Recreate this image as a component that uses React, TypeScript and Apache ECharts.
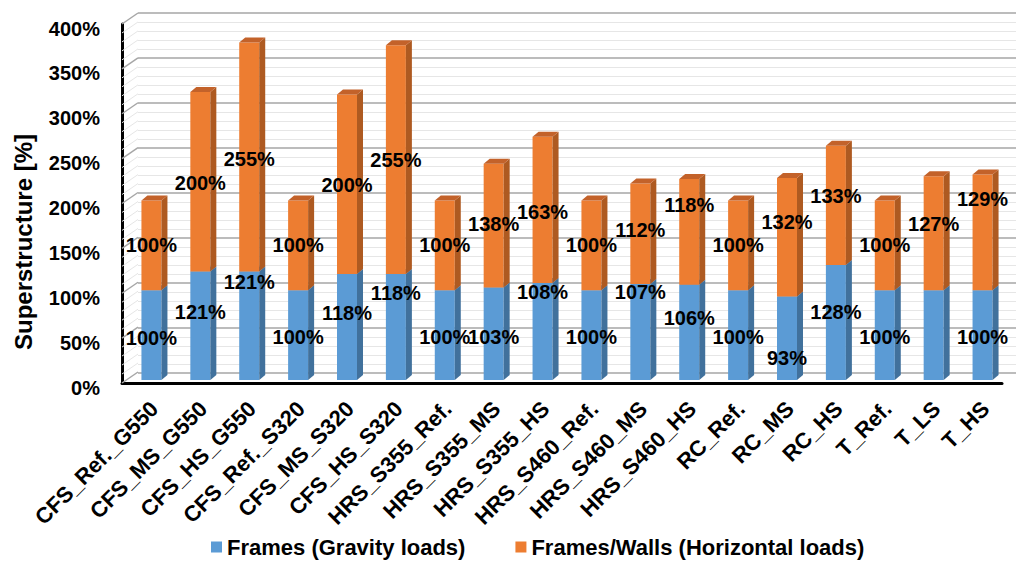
import React, { useEffect, useRef } from "react";
import * as echarts from "echarts";

const categories = [
  "CFS_Ref._G550", "CFS_MS_G550", "CFS_HS_G550", "CFS_Ref._S320", "CFS_MS_S320", "CFS_HS_S320",
  "HRS_S355_Ref.", "HRS_S355_MS", "HRS_S355_HS", "HRS_S460_Ref.", "HRS_S460_MS", "HRS_S460_HS",
  "RC_Ref.", "RC_MS", "RC_HS", "T_Ref.", "T_LS", "T_HS",
];
const gravity = [100, 121, 121, 100, 118, 118, 100, 103, 108, 100, 107, 106, 100, 93, 128, 100, 100, 100];
const horizontal = [100, 200, 255, 100, 200, 255, 100, 138, 163, 100, 112, 118, 100, 132, 133, 100, 127, 129];
const gravityLabelHidden = ["T_LS"];
const yTicks = { min: 0, max: 400, interval: 50 };

// layout: vertical nudges (px) of the data labels, as placed in the original
const gravityLabelShift = [3, -14, -44, 2, -14, -34, 2, 3, -40, 2, -40, -14, 2, 20, -11, 2, 0, 2];
const horizontalLabelShift = [0, 1, 2, 0, 1, 0, 0, -2, 2, 0, -4, -27, 0, -15, -9, 0, -9, -33];

const SERIES_G = "Frames (Gravity loads)";
const SERIES_H = "Frames/Walls (Horizontal loads)";
const FONT = "'Liberation Sans', Arial, sans-serif";

const BLUE = "#5B9BD5";
const BLUE_SIDE = "#41719C";
const BLUE_TOP = "#4F88BB";
const ORANGE = "#ED7D31";
const ORANGE_SIDE = "#AE5A21";
const ORANGE_TOP = "#C3622A";

// depth geometry (pixels)
const WALL_DX = 16;
const WALL_DY = -11;
const BAR_DX = 5;
const BAR_DY = -3;
const BAR_W = 20;
const SIDE_DX = 6;
const SIDE_DY = -5;

const PLOT = { left: 122, top: 24, width: 880, height: 359 };

function barRender(front: string, side: string, top: string) {
  return (params: any, api: any) => {
    const i = api.value(0);
    const p0 = api.coord([i, api.value(1)]);
    const p1 = api.coord([i, api.value(2)]);
    const cx = p0[0] + BAR_DX;
    const yb = p0[1] + BAR_DY;
    const yt = p1[1] + BAR_DY;
    const l = cx - BAR_W / 2;
    const r = cx + BAR_W / 2;
    return {
      type: "group",
      children: [
        { type: "rect", shape: { x: l, y: yt, width: BAR_W, height: yb - yt }, style: { fill: front } },
        {
          type: "polygon",
          shape: { points: [[r, yb], [r + SIDE_DX, yb + SIDE_DY], [r + SIDE_DX, yt + SIDE_DY], [r, yt]] },
          style: { fill: side },
        },
        {
          type: "polygon",
          shape: { points: [[l, yt], [r, yt], [r + SIDE_DX, yt + SIDE_DY], [l + SIDE_DX, yt + SIDE_DY]] },
          style: { fill: top },
        },
      ],
    };
  };
}

function labelRender(params: any, api: any) {
  const i = api.value(0);
  const txt = api.value(3);
  if (txt === "" || txt === null || txt === undefined) return null;
  const p0 = api.coord([i, api.value(1)]);
  const p1 = api.coord([i, api.value(2)]);
  const cx = p0[0] + BAR_DX;
  const cy = (p0[1] + p1[1]) / 2 + BAR_DY + Number(api.value(4));
  return {
    type: "text",
    x: cx,
    y: cy,
    style: {
      text: txt,
      fill: "#000",
      font: `bold 20px ${FONT}`,
      align: "center",
      verticalAlign: "middle",
    },
  };
}

function wallRender(params: any, api: any) {
  const children: any[] = [];
  const half = api.size([1, 0])[0] / 2;
  for (let v = yTicks.min; v <= yTicks.max; v += 10) {
    const p = api.coord([0, v]);
    const x = p[0] - half;
    const major = v % yTicks.interval === 0;
    children.push({
      type: "line",
      shape: { x1: x, y1: p[1], x2: x + WALL_DX, y2: p[1] + WALL_DY },
      style: { stroke: major ? "#A6A6A6" : "#E6E6E6", lineWidth: major ? 1.5 : 1 },
      z2: major ? 2 : 1,
    });
  }
  return { type: "group", children };
}

export default function App() {
  const ref = useRef<HTMLDivElement>(null);
  useEffect(() => {
    if (!ref.current) return;
    const chart = echarts.init(ref.current, null, { renderer: "svg" });
    const gData = categories.map((c, i) => [i, 0, gravity[i]]);
    const hData = categories.map((c, i) => [i, gravity[i], gravity[i] + horizontal[i]]);
    const gLabels = categories.map((c, i) => [
      i, 0, gravity[i], gravityLabelHidden.includes(c) ? "" : `${gravity[i]}%`, gravityLabelShift[i],
    ]);
    const hLabels = categories.map((c, i) => [
      i, gravity[i], gravity[i] + horizontal[i], `${horizontal[i]}%`, horizontalLabelShift[i],
    ]);

    const labelFont = { color: "#000", fontWeight: "bold", fontFamily: FONT };

    const option: any = {
      animation: false,
      backgroundColor: "#fff",
      textStyle: { fontFamily: FONT },
      grid: [
        { ...PLOT },
        { left: PLOT.left + WALL_DX, top: PLOT.top + WALL_DY, width: PLOT.width, height: PLOT.height + 1 },
        { left: PLOT.left, top: PLOT.top + 4.5, width: PLOT.width, height: PLOT.height },
        { left: PLOT.left + 8, top: PLOT.top, width: PLOT.width, height: PLOT.height },
      ],
      xAxis: [
        {
          type: "category",
          gridIndex: 0,
          data: categories,
          axisLine: { show: true, lineStyle: { color: "#000", width: 3 } },
          axisTick: { show: false },
          axisLabel: { show: false },
          splitLine: { show: false },
        },
        { type: "category", gridIndex: 1, data: categories, show: false },
        { type: "category", gridIndex: 2, data: categories, show: false },
        {
          type: "category",
          gridIndex: 3,
          data: categories,
          axisLine: { show: false },
          axisTick: { show: false },
          axisLabel: { interval: 0, rotate: 45, margin: 22, fontSize: 22, ...labelFont },
          splitLine: { show: false },
        },
      ],
      yAxis: [
        {
          type: "value",
          gridIndex: 0,
          min: yTicks.min,
          max: yTicks.max,
          interval: yTicks.interval,
          axisLine: { show: true, lineStyle: { color: "#000", width: 3 } },
          axisTick: { show: false },
          axisLabel: { show: false },
          splitLine: { show: false },
        },
        {
          type: "value",
          gridIndex: 1,
          min: yTicks.min,
          max: yTicks.max,
          interval: yTicks.interval,
          axisLine: { show: false },
          axisTick: { show: false },
          axisLabel: { show: false },
          splitLine: { show: true, lineStyle: { color: "#A6A6A6", width: 1.5 } },
          minorTick: { show: false, splitNumber: 5 },
          minorSplitLine: { show: true, lineStyle: { color: "#E6E6E6", width: 1 } },
        },
        {
          type: "value",
          gridIndex: 2,
          min: yTicks.min,
          max: yTicks.max,
          interval: yTicks.interval,
          axisLine: { show: false },
          axisTick: { show: false },
          axisLabel: { formatter: "{value}%", fontSize: 20, margin: 22, ...labelFont },
          splitLine: { show: false },
        },
        {
          type: "value",
          gridIndex: 3,
          min: yTicks.min,
          max: yTicks.max,
          show: false,
        },
      ],
      graphic: [
        {
          type: "text",
          x: 23,
          y: 242,
          rotation: Math.PI / 2,
          style: {
            text: "Superstructure [%]",
            fill: "#000",
            font: `bold 24px ${FONT}`,
            align: "center",
            verticalAlign: "middle",
          },
        },
      ],
      legend: {
        bottom: 2,
        left: 206,
        itemWidth: 11,
        itemHeight: 11,
        itemGap: 50,
        icon: "rect",
        textStyle: { fontSize: 22, ...labelFont },
        data: [SERIES_G, SERIES_H],
      },
      series: [
        {
          type: "custom",
          name: "wall",
          xAxisIndex: 0,
          yAxisIndex: 0,
          data: [[0, 0]],
          renderItem: wallRender,
          silent: true,
          z: 1,
        },
        {
          type: "custom",
          name: SERIES_G,
          xAxisIndex: 0,
          yAxisIndex: 0,
          data: gData,
          encode: { x: 0, y: [1, 2] },
          itemStyle: { color: BLUE },
          renderItem: barRender(BLUE, BLUE_SIDE, BLUE_TOP),
          z: 3,
        },
        {
          type: "custom",
          name: SERIES_H,
          xAxisIndex: 0,
          yAxisIndex: 0,
          data: hData,
          encode: { x: 0, y: [1, 2] },
          itemStyle: { color: ORANGE },
          renderItem: barRender(ORANGE, ORANGE_SIDE, ORANGE_TOP),
          z: 4,
        },
        {
          type: "custom",
          name: "gLabels",
          xAxisIndex: 0,
          yAxisIndex: 0,
          data: gLabels,
          encode: { x: 0, y: [1, 2] },
          renderItem: labelRender,
          z: 10,
          silent: true,
        },
        {
          type: "custom",
          name: "hLabels",
          xAxisIndex: 0,
          yAxisIndex: 0,
          data: hLabels,
          encode: { x: 0, y: [1, 2] },
          renderItem: labelRender,
          z: 10,
          silent: true,
        },
      ],
    };
    chart.setOption(option);
    return () => chart.dispose();
  }, []);
  return <div ref={ref} style={{ position: "fixed", left: 0, top: 0, width: 1016, height: 565 }} />;
}
